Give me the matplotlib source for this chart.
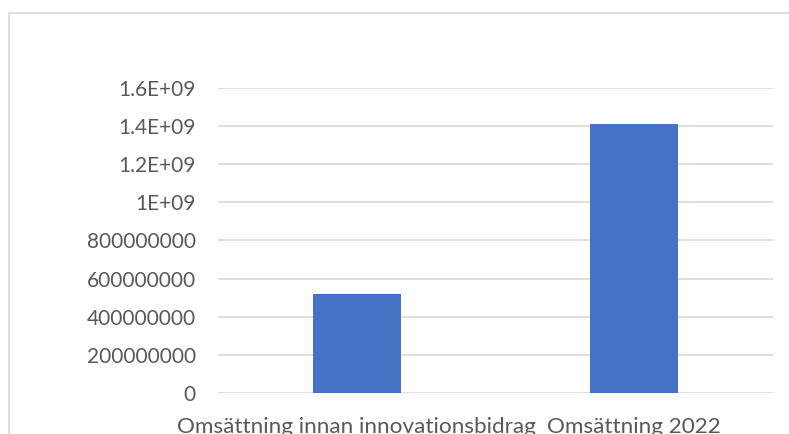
import matplotlib.pyplot as plt
from matplotlib.patches import Rectangle
from matplotlib.ticker import FixedLocator

# data
categories = ["Omsättning innan innovationsbidrag", "Omsättning 2022"]
values = [518000000, 1408000000]
yticks = [0, 200000000, 400000000, 600000000, 800000000, 1000000000,
          1200000000, 1400000000, 1600000000]
ytick_labels = ["0", "200000000", "400000000", "600000000", "800000000",
                "1E+09", "1.2E+09", "1.4E+09", "1.6E+09"]

plt.rcParams['font.family'] = ['Lato', 'DejaVu Sans']
text_col = '#595959'

W, H = 789, 434
fig = plt.figure(figsize=(W / 100, H / 100), dpi=100)
ax = fig.add_axes([218 / W, 1 - 393 / H, (773 - 218) / W, (393 - 87.7) / H])

ax.bar(range(len(categories)), values, width=0.317, color='#4472C4', zorder=3)
ax.set_xlim(-0.5, 1.5)
ax.set_ylim(0, 1600000000)
ax.yaxis.set_major_locator(FixedLocator(yticks))
ax.set_yticklabels(ytick_labels)
ax.set_xticks(range(len(categories)))
ax.set_xticklabels(categories)

ax.grid(axis='y', color='#D9D9D9', linewidth=1.2, zorder=0)
for s in ax.spines.values():
    s.set_visible(False)
ax.tick_params(axis='both', length=0, labelsize=15, colors=text_col)
ax.tick_params(axis='y', pad=16)
ax.tick_params(axis='x', pad=17, labelsize=16.2)

# chart area border (right and bottom edges fall outside the picture)
fig.patches.append(Rectangle((9 / W, -0.1), 1.2, 1.1 - 13 / H,
                             transform=fig.transFigure, fill=False,
                             edgecolor='#D9D9D9', linewidth=1.2))

fig.savefig('out.png', dpi=100)
